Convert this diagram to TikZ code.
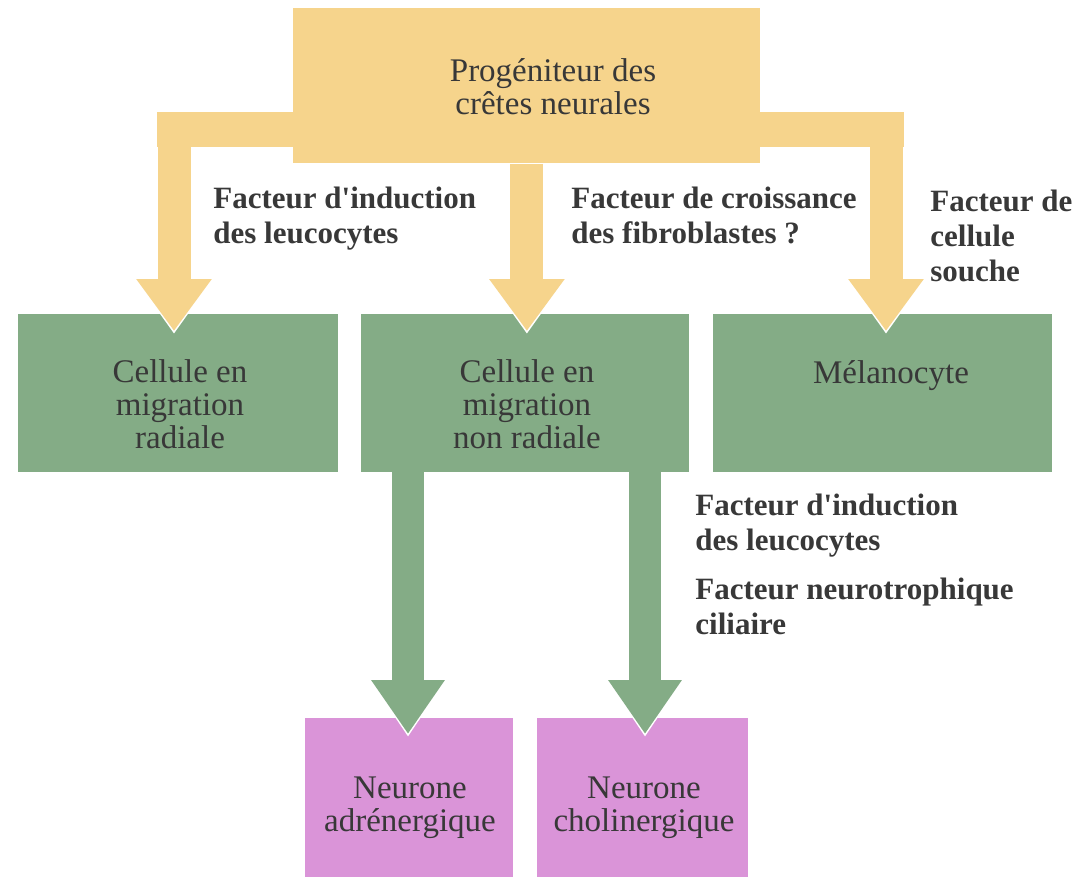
\documentclass[tikz,border=0pt]{standalone}
\usepackage{fontspec}
\setmainfont{Liberation Serif}
\usetikzlibrary{arrows.meta}
\definecolor{jaune}{HTML}{F6D48C}
\definecolor{vert}{HTML}{84AC86}
\definecolor{rose}{HTML}{DA94D8}
\definecolor{encre}{HTML}{383838}
\begin{document}
\begin{tikzpicture}[x=0.5pt,y=-0.5pt,line join=miter,
    boite/.style={rectangle,draw=none,inner sep=0pt,anchor=north west},
    texte/.style={align=center,text=encre,inner sep=0pt,
                  font=\fontsize{16.5}{16.5}\selectfont},
    etiquette/.style={anchor=north west,align=left,inner sep=0pt,text=encre,
                      font=\fontsize{15.5}{17.5}\selectfont\bfseries},
    barre/.style={draw=jaune,line width=17.5pt,line cap=rect},
    fjaune/.style={draw=jaune,line width=16.5pt,shorten >=-8.5pt,
        -{Triangle[width=36pt,length=26pt]},
        preaction={draw=white,shorten >=-10pt,
                   -{Triangle[width=39pt,length=29pt]}}},
    fverte/.style={draw=vert,line width=16pt,shorten >=-8pt,
        -{Triangle[width=35pt,length=27pt]},
        preaction={draw=white,shorten >=-9.5pt,
                   -{Triangle[width=38pt,length=30pt]}}}]

  \useasboundingbox (0,0) rectangle (1086,877);
  \fill[white] (0,0) rectangle (1086,877);

  % ---- les boites ----------------------------------------------------------
  \node[boite,fill=jaune,minimum width=233.5pt,minimum height=77.5pt] (prog) at (293,8) {};

  \node[boite,fill=vert,minimum width=160pt,minimum height=79pt]   (migrad) at (18,314) {};
  \node[boite,fill=vert,minimum width=164pt,minimum height=79pt]   (mignon) at (361,314) {};
  \node[boite,fill=vert,minimum width=169.5pt,minimum height=79pt] (melano) at (713,314) {};

  \node[boite,fill=rose,minimum width=104pt,minimum height=85pt]   (neuadr)  at (305,718) {};
  \node[boite,fill=rose,minimum width=105.5pt,minimum height=85pt] (neuchol) at (537,718) {};

  % ---- fleches jaunes ------------------------------------------------------
  \coordinate (barG) at (174,130);
  \coordinate (barD) at (886,130);

  \draw[barre] (barG) -- (barD);
  \draw[fjaune] (barG) -- (barG |- migrad.north);
  \draw[fjaune] (prog.south) -- (prog.south |- mignon.north);
  \draw[fjaune] (barD) -- (barD |- melano.north);

  % ---- fleches vertes ------------------------------------------------------
  \coordinate (depA) at (408,472);
  \coordinate (depC) at (645,472);

  \draw[fverte] (depA) -- (depA |- neuadr.north);
  \draw[fverte] (depC) -- (depC |- neuchol.north);

  % ---- textes des boites ---------------------------------------------------
  \node[texte] (tprog)    at (553,87)  {Progéniteur des\\crêtes neurales};
  \node[texte] (tmigrad)  at (180,404) {Cellule en\\migration\\radiale};
  \node[texte] (tmignon)  at (527,404) {Cellule en\\migration\\non radiale};
  \node[texte] (tmelano)  at (891,376) {Mélanocyte};
  \node[texte] (tneuadr)  at (410,808) {Neurone\\adrénergique};
  \node[texte] (tneuchol) at (644,808) {Neurone\\cholinergique};

  % ---- facteurs ------------------------------------------------------------
  \node[etiquette] (fil1) at (213,187) {Facteur d\textquotesingle induction\\des leucocytes};
  \node[etiquette] (fcf)  at (571,187) {Facteur de croissance\\des fibroblastes ?};
  \node[etiquette] (fcs)  at (930,190) {Facteur de\\cellule\\souche};
  \node[etiquette] (fil2) at (695,494) {Facteur d\textquotesingle induction\\des leucocytes};
  \node[etiquette] (fnc)  at (695,578) {Facteur neurotrophique\\ciliaire};

\end{tikzpicture}
\end{document}
